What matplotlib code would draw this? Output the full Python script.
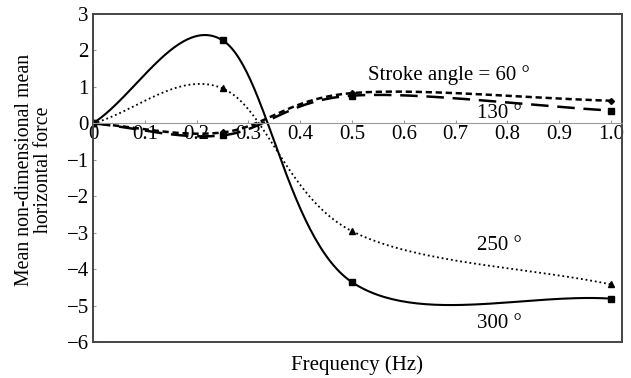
import numpy as np
import matplotlib
matplotlib.use("Agg")
import matplotlib.pyplot as plt

plt.rcParams['font.family'] = ['Liberation Serif', 'DejaVu Serif']

freq = [0.0, 0.25, 0.5, 1.0]
f60 = [0.0, -0.25, 0.83, 0.62]
f130 = [0.0, -0.33, 0.76, 0.35]
f250 = [0.0, 0.96, -2.96, -4.42]
f300 = [0.0, 2.28, -4.36, -4.81]
xticks = [0, 0.1, 0.2, 0.3, 0.4, 0.5, 0.6, 0.7, 0.8, 0.9, 1.0]
xticklabels = ['0', '0.1', '0.2', '0.3', '0.4', '0.5', '0.6', '0.7', '0.8', '0.9', '1.0']
yticks = [3, 2, 1, 0, -1, -2, -3, -4, -5, -6]


def smooth(xs, ys, n=60):
    """Excel-style smoothed line: cubic Bezier segments, tangents (P[i+1]-P[i-1])/6."""
    P = np.column_stack([xs, ys]).astype(float)
    m = len(P)
    T = np.zeros_like(P)
    for i in range(m):
        if i == 0:
            T[i] = (P[1] - P[0]) / 3
        elif i == m - 1:
            T[i] = (P[-1] - P[-2]) / 3
        else:
            T[i] = (P[i + 1] - P[i - 1]) / 6
    out = []
    t = np.linspace(0, 1, n)[:, None]
    for i in range(m - 1):
        p0, p3 = P[i], P[i + 1]
        c1, c2 = p0 + T[i], p3 - T[i + 1]
        seg = (1 - t) ** 3 * p0 + 3 * (1 - t) ** 2 * t * c1 + 3 * (1 - t) * t ** 2 * c2 + t ** 3 * p3
        out.append(seg if i == 0 else seg[1:])
    out = np.vstack(out)
    return out[:, 0], out[:, 1]


fig = plt.figure(figsize=(6.31, 3.78), dpi=100)
ax = fig.add_axes([93 / 631, 1 - 342 / 378, (622 - 93) / 631, (342 - 14) / 378])

series = [
    (f300, dict(ls='-', lw=1.5), dict(marker='s', ms=4)),
    (f250, dict(ls=(0, (1, 1.6)), lw=1.3), dict(marker='^', ms=4.5)),
    (f60, dict(ls=(0, (2.5, 1.5)), lw=1.8), dict(marker='D', ms=3)),
    (f130, dict(ls=(0, (7, 3.5)), lw=1.8), dict(marker='s', ms=4)),
]
for ys, lstyle, mstyle in series:
    sx, sy = smooth(freq, ys)
    ax.plot(sx, sy, color='black', **lstyle)
    ax.plot(freq, ys, ls='none', color='black', **mstyle)

ax.set_xlim(0, 1.021)
ax.set_ylim(-6, 3)

for s in ['top', 'right', 'left']:
    ax.spines[s].set_color('#444444')
    ax.spines[s].set_linewidth(1.4)
ax.spines['bottom'].set_position(('data', 0))
ax.spines['bottom'].set_color('#999999')
ax.spines['bottom'].set_linewidth(0.8)
ax.axhline(-6, color='#444444', lw=1.4, clip_on=False, zorder=5)

fs = 15
ax.set_xticks(xticks)
ax.set_xticklabels(xticklabels)
ax.set_yticks(yticks)
ax.set_yticklabels([str(v).replace('-', '\u2212') for v in yticks])
ax.tick_params(axis='x', direction='in', length=2, color='#999999', labelsize=fs, pad=1)
ax.tick_params(axis='y', direction='in', length=2, color='#999999', labelsize=fs, pad=3)

fig.text(34 / 631, 1 - 170 / 378, 'Mean non-dimensional mean\nhorizontal force', rotation=90,
         ha='center', va='center', fontsize=14.3, linespacing=1.0, multialignment='center')
fig.text(357 / 631, 1 - 365 / 378, 'Frequency (Hz)', ha='center', va='center', fontsize=fs)

ax.text(0.687, 1.32, 'Stroke angle = 60 °', ha='center', va='center', fontsize=fs)
ax.text(0.784, 0.27, '130 °', ha='center', va='center', fontsize=fs)
ax.text(0.784, -3.35, '250 °', ha='center', va='center', fontsize=fs)
ax.text(0.784, -5.5, '300 °', ha='center', va='center', fontsize=fs)

fig.savefig('out.png', dpi=100)
